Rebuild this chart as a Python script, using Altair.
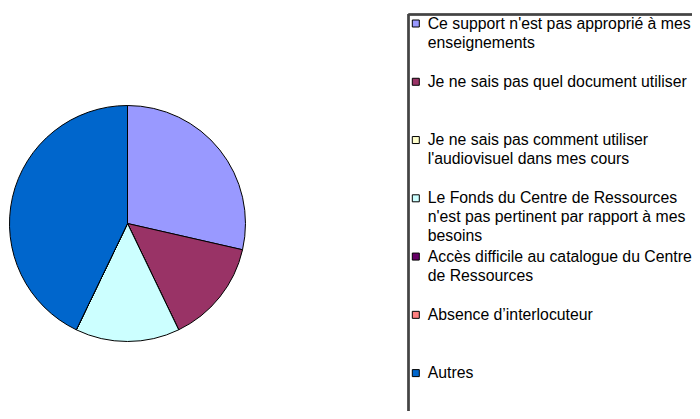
import altair as alt
import pandas as pd

categories = [
    "Ce support n'est pas approprié à mes enseignements",
    "Je ne sais pas quel document utiliser",
    "Je ne sais pas comment utiliser l'audiovisuel dans mes cours",
    "Le Fonds du Centre de Ressources n'est pas pertinent par rapport à mes besoins",
    "Accès difficile au catalogue du Centre de Ressources",
    "Absence d’interlocuteur",
    "Autres",
]
legend_labels = [
    "Ce support n'est pas approprié à mes\nenseignements",
    "Je ne sais pas quel document utiliser",
    "Je ne sais pas comment utiliser\nl'audiovisuel dans mes cours",
    "Le Fonds du Centre de Ressources\nn'est pas pertinent par rapport à mes\nbesoins",
    "Accès difficile au catalogue du Centre\nde Ressources",
    "Absence d’interlocuteur",
    "Autres",
]
values = [2, 1, 0, 1, 0, 0, 3]
colors = ["#9999FF", "#993366", "#FFFFCC", "#CCFFFF", "#660066", "#FF8080", "#0066CC"]

df = pd.DataFrame({
    "cat": categories,
    "label": legend_labels,
    "value": values,
    "idx": list(range(len(categories))),
})

FONT = "Liberation Sans"
color_scale = alt.Scale(domain=categories, range=colors)

base = alt.Chart(df)

pie = base.mark_arc(radius=118, stroke="black", strokeWidth=1).encode(
    theta=alt.Theta("value:Q", stack=True),
    order=alt.Order("idx:Q"),
    color=alt.Color("cat:N", scale=color_scale, legend=None),
    x=alt.value(119.5),
    y=alt.value(215.5),
)

border_left = base.mark_rule(color="#444444", strokeWidth=1.5).encode(
    x=alt.value(400.5), y=alt.value(6), y2=alt.value(420)
)
border_top = base.mark_rule(color="#444444", strokeWidth=1.5).encode(
    x=alt.value(400.5), x2=alt.value(720), y=alt.value(6.5)
)

ypos = alt.Y("idx:Q", scale=alt.Scale(domain=[0, 6], range=[15.5, 365.1]), axis=None)

swatches = base.mark_square(size=49, filled=True, stroke="black", strokeWidth=1, opacity=1).encode(
    x=alt.value(407.8),
    y=ypos,
    color=alt.Color("cat:N", scale=color_scale, legend=None),
)

texts = base.mark_text(
    align="left", baseline="alphabetic", dy=5, font=FONT, fontSize=15.8,
    lineBreak="\n", lineHeight=19, color="black",
).encode(
    x=alt.value(419.7),
    y=ypos,
    text="label:N",
)

chart = alt.layer(pie, border_left, border_top, swatches, texts).properties(
    width=684, height=403, padding=0,
    autosize=alt.AutoSizeParams(type="none"),
).configure_view(stroke=None)

chart.save("out.html", embed_options={"renderer": "svg", "actions": False})
